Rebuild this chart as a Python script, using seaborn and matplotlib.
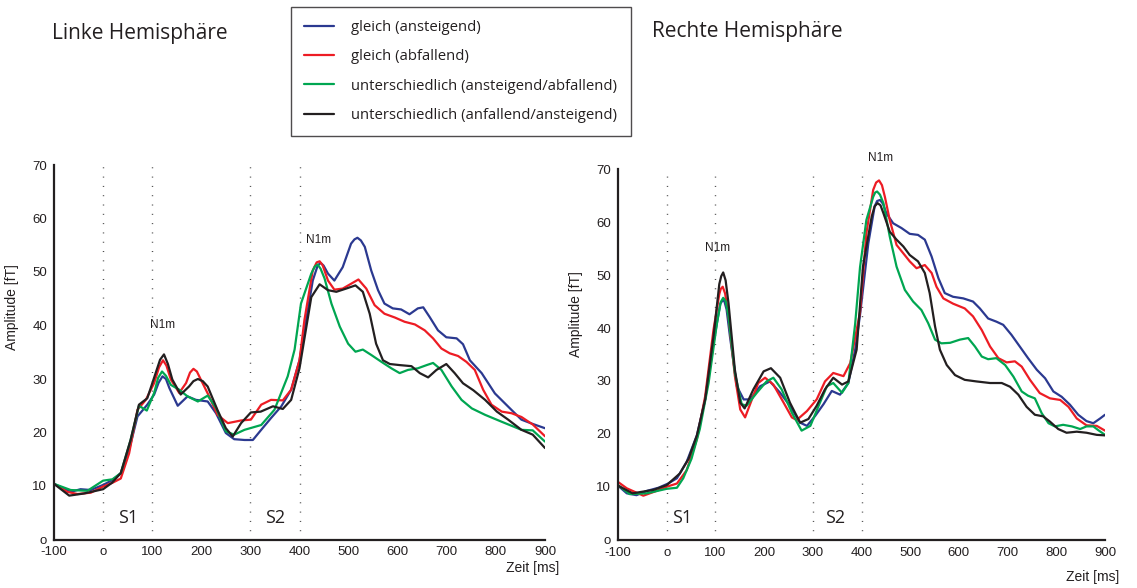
import numpy as np
import pandas as pd
import matplotlib
matplotlib.use("Agg")
import matplotlib.pyplot as plt
from matplotlib.lines import Line2D
import seaborn as sns

# ---------------- data ----------------
conditions = ["gleich (ansteigend)", "gleich (abfallend)",
              "unterschiedlich (ansteigend/abfallend)",
              "unterschiedlich (anfallend/ansteigend)"]
colors = ["#2B3990", "#ED1C24", "#00A651", "#231F20"]

# Left hemisphere
L_blue_t = [-100, -66, -46, -25, 0, 19, 36, 53, 70, 90, 104, 113, 121, 128, 135, 152, 172, 189, 213, 230, 250, 267,
            288, 305, 322, 342, 363, 383, 400, 410, 427, 437, 443, 449, 458, 471, 488, 505, 512, 518, 525, 533, 546, 560, 573, 590,
            607, 624, 641, 652, 665, 682, 699, 720, 733, 747, 771, 798, 832, 852, 875, 900]
L_blue_v = [10.4, 8.9, 9.4, 9.25, 10.2, 11.1, 12.4, 16.75, 23, 25.2, 27.1, 29.3, 30.5, 30.0, 28.3, 25, 26.75, 26.1, 25.8, 23.6, 19.9, 18.75,
            18.6, 18.6, 20.5, 22.7, 24.9, 28, 33.5, 39.1, 48.4, 51.2, 51.7, 51.2, 49.7, 48.4, 50.9, 55.3, 56.1, 56.4, 55.9, 54.7, 50.3, 46.6, 44.1, 43.2,
            43.0, 42.1, 43.2, 43.4, 41.6, 39.1, 37.8, 37.6, 36.5, 33.5, 31.1, 27.3, 24.2, 22.4, 21.6, 20.8]

L_red_t = [-100, -73, -52, -25, 0, 19, 36, 53, 70, 87, 104, 114, 122, 129, 138, 155, 169, 177, 184, 191, 199, 216, 233, 254,
           281, 301, 322, 342, 366, 383, 400, 410, 427, 435, 441, 447, 458, 471, 488, 505, 520, 536, 553, 573, 594, 614,
           635, 655, 672, 689, 706, 723, 740, 757, 774, 791, 812, 832, 852, 875, 900]
L_red_v = [10.4, 8.9, 8.5, 8.75, 9.9, 10.6, 11.4, 16.1, 24.25, 26.1, 29.25, 32.2, 33.5, 32.5, 29.9, 27.4, 29.25, 31.2, 31.9, 31.4, 29.9, 26.75, 23.3, 21.75,
           22.25, 22.4, 25.2, 26.1, 26.0, 28, 33.5, 41, 50.3, 51.8, 52.0, 51.3, 48.4, 46.7, 46.9, 47.8, 48.6, 46.9, 43.8, 42.2, 41.5, 40.7,
           40.2, 39.1, 37.6, 35.7, 34.8, 34.3, 33.2, 31.7, 28.0, 25.2, 23.9, 23.6, 22.9, 21.5, 19.3]

L_green_t = [-100, -66, -32, 0, 19, 36, 56, 73, 89, 104, 112, 120, 128, 138, 155, 172, 193, 213, 230, 250, 267, 288,
             322, 349, 376, 390, 403, 424, 431, 437, 443, 451, 465, 482, 499, 514, 529, 546, 567, 587, 604, 621, 641, 659,
             672, 689, 710, 730, 751, 778, 812, 852, 875, 900]
L_green_v = [10.4, 9.25, 9.1, 11, 11.25, 12.4, 18.6, 25, 24.1, 27.4, 30.2, 31.4, 30.6, 28.9, 28, 26.75, 25.8, 26.9, 24.6, 20.2, 19.6, 20.5,
             21.4, 24.25, 30.5, 35.5, 44.1, 49.7, 51.0, 51.4, 50.6, 48.8, 44.1, 39.8, 36.6, 35.1, 35.5, 34.5, 33.2, 32.0, 31.1, 31.7, 32.0, 32.6,
             33.0, 31.7, 28.6, 26.1, 24.5, 23.3, 22.0, 20.5, 20.4, 18.3]

L_black_t = [-100, -69, -39, 0, 18, 36, 56, 73, 90, 107, 116, 124, 132, 141, 158, 175, 184, 193, 203, 213, 233, 250, 264, 281,
             301, 321, 346, 366, 383, 400, 424, 441, 458, 475, 495, 514, 529, 543, 556, 570, 584, 604, 628, 645,
             662, 679, 699, 716, 733, 754, 778, 802, 825, 852, 875, 900]
L_black_v = [10.4, 8.2, 8.6, 9.4, 10.6, 12.4, 18.6, 25.2, 26.4, 31.1, 33.6, 34.6, 32.8, 29.9, 27.1, 28.6, 29.6, 30, 29.6, 28.6, 24.2, 20.8, 19.25, 21.75,
             23.75, 23.9, 24.9, 24.4, 26.1, 32, 45.3, 47.7, 46.6, 46.3, 46.9, 47.5, 46.3, 42.2, 36.6, 33.5, 32.8, 32.6, 32.4, 31.1,
             30.3, 31.7, 32.8, 31.1, 29.2, 27.9, 26.1, 23.9, 22.4, 20.5, 19.6, 17.1]

# Right hemisphere
R_blue_t = [-100, -82, -62, -41, -17, 3, 21, 41, 62, 79, 96, 110, 114, 118, 123, 130, 144, 158, 171, 192, 212, 233,
            253, 274, 288, 305, 322, 339, 356, 373, 387, 397, 414, 427, 432, 438, 444, 451, 465, 482, 499, 516, 530, 544,
            558, 571, 588, 609, 629, 643, 660, 677, 691, 708, 725, 742, 760, 777, 794, 811, 828, 845, 862, 876,
            890, 900]
R_blue_v = [10.2, 8.75, 8.4, 9.2, 9.8, 10.6, 11.6, 14.7, 19.7, 26.5, 37.1, 44.6, 45.1, 45.2, 43.5, 38.3, 29, 26.5, 26.5, 29, 29.9, 27.75,
            25.3, 22.1, 21.5, 23.4, 25.6, 28.1, 27.4, 29.6, 35.9, 42.5, 56, 63, 64.0, 64.2, 63.5, 61.7, 59.8, 58.9, 57.8, 57.6, 56.7, 53.5,
            49.4, 46.6, 45.9, 45.6, 45, 43.7, 41.8, 41.2, 40.6, 38.7, 36.5, 34.3, 32.1, 30.5, 28, 27, 25.5, 23.6, 22.4, 22.0,
            22.9, 23.6]

R_red_t = [-100, -82, -48, -21, 0, 21, 41, 62, 79, 96, 108, 111, 115, 120, 127, 140, 151, 161, 175, 188, 202, 219,
           240, 257, 267, 288, 308, 325, 342, 363, 377, 397, 410, 424, 430, 436, 442, 448, 458, 472, 486, 499, 513, 530,
           544, 554, 568, 588, 612, 629, 647, 664, 681, 698, 715, 729, 746, 766, 787, 808, 825, 842, 862, 883, 900]
R_red_v = [10.9, 9.7, 8.3, 9.2, 10, 10.6, 13.1, 19.0, 27.1, 39.6, 46.4, 47.4, 47.8, 46.5, 42.1, 30.9, 24.6, 23.1, 26.5, 29.6, 30.6, 29.3,
           25.9, 23.1, 22.6, 24.3, 26.5, 29.9, 31.5, 30.9, 33.4, 43, 57.9, 66.1, 67.5, 67.9, 67.0, 64.8, 60.4, 55.7, 54.1, 52.6, 51.3, 51.9,
           50.4, 47.8, 45.6, 44.6, 43.7, 42.2, 39.6, 36.5, 34.3, 33.5, 33.7, 32.7, 30.2, 27.7, 26.7, 26.4, 25.1, 22.9, 21.6, 21.5, 20.6]

R_green_t = [-100, -76, -41, 0, 21, 34, 51, 68, 86, 103, 111, 116, 121, 127, 140, 154, 164, 185, 205, 219, 236, 257,
             277, 295, 312, 329, 342, 360, 373, 387, 397, 410, 424, 428, 432, 438, 445, 458, 472, 489, 506, 523, 537, 551,
             564, 582, 602, 619, 633, 647, 660, 677, 695, 712, 729, 742, 756, 770, 784, 797, 814, 832, 849, 862,
             876, 886, 900]
R_green_v = [10.3, 8.6, 8.75, 9.6, 9.8, 11.6, 15.3, 20.9, 29.6, 40.8, 44.9, 45.7, 45.1, 42.1, 31.5, 25.6, 25.3, 27.75, 29.9, 30.6, 28.4, 24.0,
             20.6, 21.5, 25.3, 29, 29.6, 27.75, 29.6, 40.8, 51.5, 60.4, 64.8, 65.6, 65.8, 65.2, 63.6, 57.3, 51.6, 47.2, 45, 43.4, 40.9, 37.8,
             37.1, 37.2, 37.8, 38.1, 36.5, 34.6, 34.1, 34.3, 33.0, 30.8, 28, 27.2, 26.7, 23.9, 22.0, 21.4, 21.7, 21.4, 20.9, 21.4,
             21.4, 20.7, 19.8]

R_black_t = [-100, -70, -27, 0, 27, 45, 62, 79, 96, 108, 112, 116, 121, 127, 140, 151, 160, 178, 199, 214, 233, 253,
             274, 291, 308, 325, 342, 360, 373, 390, 403, 421, 427, 433, 439, 445, 458, 472, 486, 499, 516, 530, 540, 551,
             561, 575, 592, 612, 636, 664, 688, 705, 722, 739, 756, 773, 787, 804, 821, 842, 862, 883, 900]
R_black_v = [10.2, 8.75, 9.4, 10.3, 12.5, 15.3, 19.7, 26.5, 38.3, 48.3, 49.8, 50.5, 49.0, 44.6, 32.1, 25.9, 24.8, 28.4, 31.8, 32.4, 30.6, 25.9,
             22.1, 22.8, 25.3, 28.4, 30.6, 29.3, 29.9, 35.9, 51.6, 61.1, 63.0, 63.6, 63.2, 61.7, 58.2, 56.7, 55.4, 53.8, 52.6, 50.4, 46.6, 40.3,
             35.9, 33.0, 31.1, 30.2, 29.9, 29.6, 29.6, 28.9, 27.4, 25.1, 23.6, 23.3, 22.3, 20.9, 20.2, 20.4, 20.2, 19.8, 19.7]

marker_times = [0, 100, 300, 400]
x_ticks = list(range(-100, 901, 100))
x_ticklabels = ["-100", "o", "100", "200", "300", "400", "500", "600", "700", "800", "900"]
y_ticks = list(range(0, 71, 10))
y_ticklabels = ["o", "10", "20", "30", "40", "50", "60", "70"]

left_series = [(L_blue_t, L_blue_v), (L_red_t, L_red_v), (L_green_t, L_green_v), (L_black_t, L_black_v)]
right_series = [(R_blue_t, R_blue_v), (R_red_t, R_red_v), (R_green_t, R_green_v), (R_black_t, R_black_v)]


def to_frame(series):
    parts = []
    for cond, (t, v) in zip(conditions, series):
        parts.append(pd.DataFrame({"t": t, "v": v, "cond": cond}))
    return pd.concat(parts, ignore_index=True)


# ---------------- figure ----------------
sns.set_style("white")
plt.rcParams["font.family"] = ["Liberation Sans", "DejaVu Sans"]

fig = plt.figure(figsize=(11.37, 5.88), dpi=100)
axL = fig.add_axes([54 / 1137, 1 - 539.5 / 588, 491 / 1137, 374.5 / 588])
axR = fig.add_axes([618 / 1137, 1 - 539.6 / 588, 487 / 1137, 370.3 / 588])

ink = "#231F20"
myriad = ["Open Sans", "DejaVu Sans"]

for ax, series, n1m, s_pos, ylab_y, zeit_y in [
        (axL, left_series, [(122, 40.1), (438, 56)], [(51, 4), (350, 4)], 0.62, -0.075),
        (axR, right_series, [(105, 55.1), (440, 72.1)], [(31, 4), (346, 4)], 0.61, -0.10)]:
    df = to_frame(series)
    sns.lineplot(data=df, x="t", y="v", hue="cond", hue_order=conditions,
                 palette=colors, estimator=None, sort=True, lw=1.6,
                 legend=False, ax=ax)
    for line in ax.get_lines():
        line.set_solid_joinstyle("round")
    for mt in marker_times:
        ax.axvline(mt, ymin=0, ymax=1, color="#444444", lw=1.0,
                   linestyle=(0, (0.7, 6)), zorder=0)
    ax.set_xlim(-100, 900)
    ax.set_ylim(0, 70)
    ax.set_xticks(x_ticks)
    ax.set_xticklabels(x_ticklabels)
    ax.set_yticks(y_ticks)
    ax.set_yticklabels(y_ticklabels)
    ax.tick_params(direction="in", length=4, width=1, colors=ink,
                   labelsize=9.5, pad=5)
    for s in ["top", "right"]:
        ax.spines[s].set_visible(False)
    for s in ["left", "bottom"]:
        ax.spines[s].set_color(ink)
        ax.spines[s].set_linewidth(1.6)
    ax.set_xlabel("")
    ax.set_ylabel("Amplitude [fT]", fontsize=10, color=ink)
    ax.yaxis.set_label_coords(-0.071, ylab_y)
    ax.text(1.03, zeit_y, "Zeit [ms]", transform=ax.transAxes, ha="right",
            va="center", fontsize=10, color=ink)
    for (tx, ty) in n1m:
        ax.text(tx, ty, "N1m", ha="center", va="center", fontsize=8.5,
                color=ink, clip_on=False)
    for (tx, ty), lab in zip(s_pos, ["S1", "S2"]):
        ax.text(tx, ty, lab, ha="center", va="center", fontsize=13,
                color=ink, family=myriad)
    ax.set_facecolor("white")

fig.text(52 / 1137, 1 - 33 / 588, "Linke Hemisphäre", ha="left", va="center",
         fontsize=15, color=ink, family=myriad)
fig.text(652 / 1137, 1 - 31 / 588, "Rechte Hemisphäre", ha="left", va="center",
         fontsize=15, color=ink, family=myriad)

handles = [Line2D([0], [0], color=c, lw=1.6) for c in colors]
leg = fig.legend(handles, conditions, loc="upper left",
                 bbox_to_anchor=(291 / 1137, 1 - 7 / 588),
                 frameon=True, fancybox=False, shadow=False,
                 handlelength=2.0, handletextpad=1.15,
                 labelspacing=0.95, borderpad=0.9, borderaxespad=0,
                 prop={"family": myriad, "size": 10.7})
leg.get_frame().set_edgecolor(ink)
leg.get_frame().set_linewidth(1.0)
for t in leg.get_texts():
    t.set_color(ink)

fig.savefig("out.png", dpi=100, facecolor="white")
